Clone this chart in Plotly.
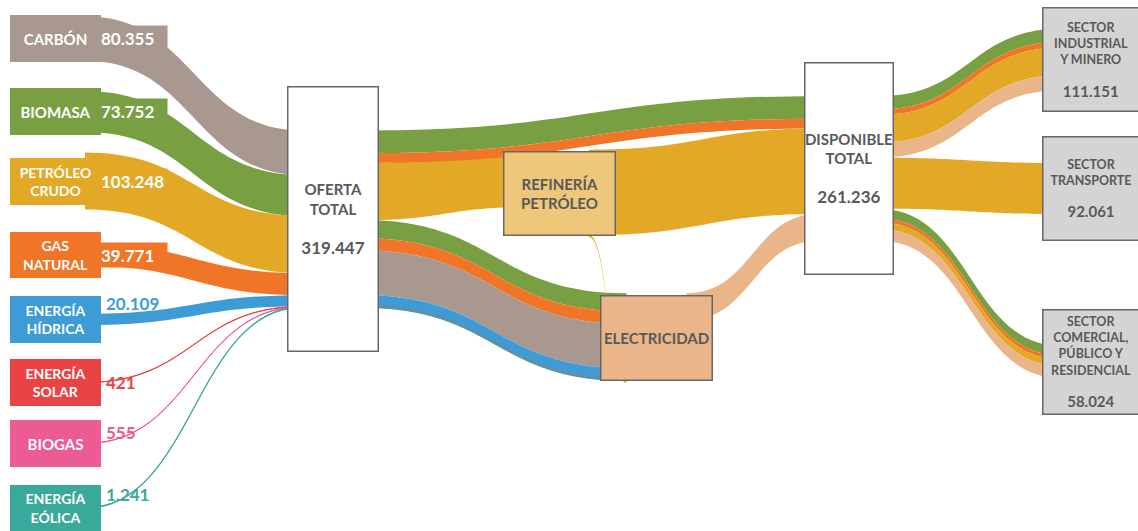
import plotly.graph_objects as go

# ------------------------------------------------------------------ data
source_keys = ["carbon", "biomasa", "petroleo", "gas", "hidrica", "solar", "biogas", "eolica"]
source_labels = ["CARBÓN", "BIOMASA", "PETRÓLEO<br>CRUDO", "GAS<br>NATURAL",
                 "ENERGÍA<br>HÍDRICA", "ENERGÍA<br>SOLAR", "BIOGAS", "ENERGÍA<br>EÓLICA"]
source_values = [80355, 73752, 103248, 39771, 20109, 421, 555, 1241]

hub_keys = ["oferta", "refineria", "electricidad", "disponible"]
hub_labels = ["OFERTA<br>TOTAL", "REFINERÍA<br>PETRÓLEO", "ELECTRICIDAD", "DISPONIBLE<br>TOTAL"]
hub_totals = [319447, None, None, 261236]

sector_keys = ["industrial", "transporte", "comercial"]
sector_labels = ["SECTOR<br>INDUSTRIAL<br>Y MINERO", "SECTOR<br>TRANSPORTE",
                 "SECTOR<br>COMERCIAL,<br>PÚBLICO Y<br>RESIDENCIAL"]
sector_values = [111151, 92061, 58024]

# transformation / consumption flows (estimated from band widths)
flow_from = ["oferta", "oferta", "oferta",
             "oferta", "oferta", "oferta", "oferta", "oferta", "oferta", "oferta",
             "refineria", "refineria", "electricidad",
             "disponible", "disponible", "disponible", "disponible",
             "disponible",
             "disponible", "disponible", "disponible", "disponible"]
flow_to = ["refineria", "disponible", "disponible",
           "electricidad", "electricidad", "electricidad", "electricidad", "electricidad",
           "electricidad", "electricidad",
           "disponible", "electricidad", "disponible",
           "industrial", "industrial", "industrial", "industrial",
           "transporte",
           "comercial", "comercial", "comercial", "comercial"]
flow_carrier = ["petroleo", "biomasa", "gas",
                "biomasa", "gas", "carbon", "hidrica", "solar", "biogas", "eolica",
                "petroleo", "petroleo", "electricidad",
                "biomasa", "gas", "petroleo", "electricidad",
                "petroleo",
                "biomasa", "gas", "petroleo", "electricidad"]
flow_value = [103248, 41000, 17500,
              32752, 22271, 80355, 20109, 421, 555, 1241,
              154061, 4000, 48675,
              24000, 10000, 50000, 27151,
              92061,
              17000, 7500, 12000, 21524]

# ------------------------------------------------------------------ styling / layout
W, H = 1138, 531
FONT = "Lato"
TEXT_DARK = "#58595b"
BORDER = "#666666"

COLORS = {
    "carbon": "#a8988f", "biomasa": "#78a042", "petroleo": "#e3a826", "gas": "#f07526",
    "hidrica": "#3d9bd6", "solar": "#ea4343", "biogas": "#ec5b94", "eolica": "#39a99a",
    "electricidad": "#ebb58a",
}
BOX_FILL = {"oferta": "white", "refineria": "#eec77b", "electricidad": "#ebb58a",
            "disponible": "white", "industrial": "#d4d4d4", "transporte": "#d4d4d4",
            "comercial": "#d4d4d4"}

# box geometry in pixels: centre x, centre y, width, height
BOX = {
    "carbon": (55, 38.5, 91, 47), "biomasa": (55, 111.5, 91, 47),
    "petroleo": (55, 181, 91, 47), "gas": (55, 255, 91, 46),
    "hidrica": (55, 319.5, 91, 47), "solar": (55, 382.5, 91, 47),
    "biogas": (55, 443.5, 91, 47), "eolica": (55, 508, 91, 46),
    "oferta": (333, 219, 92, 266), "refineria": (559, 193.5, 113, 85),
    "electricidad": (656.5, 338, 113, 86), "disponible": (849, 168.5, 90, 213),
    "industrial": (1091, 59.5, 98, 105), "transporte": (1091, 188.5, 98, 105),
    "comercial": (1091, 362, 98, 106),
}
TAB_SOURCES = {"carbon", "biomasa", "petroleo", "gas"}
VALUE_Y = {"hidrica": 303, "solar": 382, "biogas": 432, "eolica": 494}


def fmt(v):
    return f"{v:,}".replace(",", ".")


node_keys = source_keys + hub_keys + sector_keys
node_names = ([l.replace("<br>", " ") for l in source_labels] +
              [l.replace("<br>", " ") for l in hub_labels] +
              [l.replace("<br>", " ") for l in sector_labels])
idx = {k: i for i, k in enumerate(node_keys)}

links_s, links_t, links_v, links_c = [], [], [], []
for k, v in zip(source_keys, source_values):
    links_s.append(idx[k]); links_t.append(idx["oferta"]); links_v.append(v); links_c.append(k)
for a, b, c, v in zip(flow_from, flow_to, flow_carrier, flow_value):
    links_s.append(idx[a]); links_t.append(idx[b]); links_v.append(v); links_c.append(c)

link_colors = [COLORS[c] for c in links_c]

fig = go.Figure(go.Sankey(
    arrangement="fixed",
    node=dict(
        pad=64, thickness=60,
        x=[BOX[k][0] / W for k in node_keys],
        y=[BOX[k][1] / H for k in node_keys],
        color="rgba(0,0,0,0)", line=dict(width=0, color="rgba(0,0,0,0)"),
        label=[""] * len(node_keys), customdata=node_names,
        hovertemplate="%{customdata}<extra></extra>",
    ),
    link=dict(
        source=links_s, target=links_t, value=links_v, color=link_colors,
        hovertemplate="%{value:,}<extra></extra>",
    ),
))

ann = []


def box(key, text, bg, fcolor, size, bw):
    cx, cy, w, h = BOX[key]
    return dict(x=cx / W, y=1 - cy / H, xref="paper", yref="paper", xanchor="center",
                yanchor="middle", showarrow=False, text=text, width=w - 2 * bw,
                height=h - 2 * bw, bgcolor=bg, bordercolor=BORDER, borderwidth=bw,
                borderpad=0, align="center", valign="middle",
                font=dict(family=FONT, size=size, color=fcolor))


# source boxes and value labels
for k, lab, v in zip(source_keys, source_labels, source_values):
    size = 15 if "<br>" not in lab else 14
    ann.append(box(k, f"<b>{lab}</b>", COLORS[k], "white", size, 0))
    cx, cy, w, h = BOX[k]
    if k in TAB_SOURCES:
        ann.append(dict(x=(cx + w / 2 - 1) / W, y=1 - cy / H, xref="paper", yref="paper",
                        xanchor="left", yanchor="middle", showarrow=False,
                        text=f"<b>{fmt(v)}</b>", width=66, height=24, bgcolor=COLORS[k],
                        borderpad=0, align="left", valign="middle",
                        font=dict(family=FONT, size=17, color="white")))
    else:
        ann.append(dict(x=(cx + w / 2 + 3) / W, y=1 - VALUE_Y[k] / H, xref="paper",
                        yref="paper", xanchor="left", yanchor="middle", showarrow=False,
                        text=f"<b>{fmt(v)}</b>",
                        font=dict(family=FONT, size=17, color=COLORS[k])))

# hub boxes
for k, lab, tot in zip(hub_keys, hub_labels, hub_totals):
    txt = f"<b>{lab}</b>"
    if tot is not None:
        txt += f"<br><span style='font-size:7px'> </span><br><b><span style='font-size:17px'>{fmt(tot)}</span></b>"
    ann.append(box(k, txt, BOX_FILL[k], TEXT_DARK, 15, 1.5))

# sector boxes
for k, lab, v in zip(sector_keys, sector_labels, sector_values):
    txt = f"<b>{lab}</b><br> <br><b><span style='font-size:15px'>{fmt(v)}</span></b>"
    ann.append(box(k, txt, BOX_FILL[k], TEXT_DARK, 12.5, 1.5))

fig.update_layout(width=W, height=H, margin=dict(l=0, r=0, t=0, b=0),
                  paper_bgcolor="white", plot_bgcolor="white",
                  font=dict(family=FONT), annotations=ann)

fig.write_html("out.html", config={"displayModeBar": False},
               post_script="document.body.style.margin='0px';document.body.style.overflow='hidden';")
